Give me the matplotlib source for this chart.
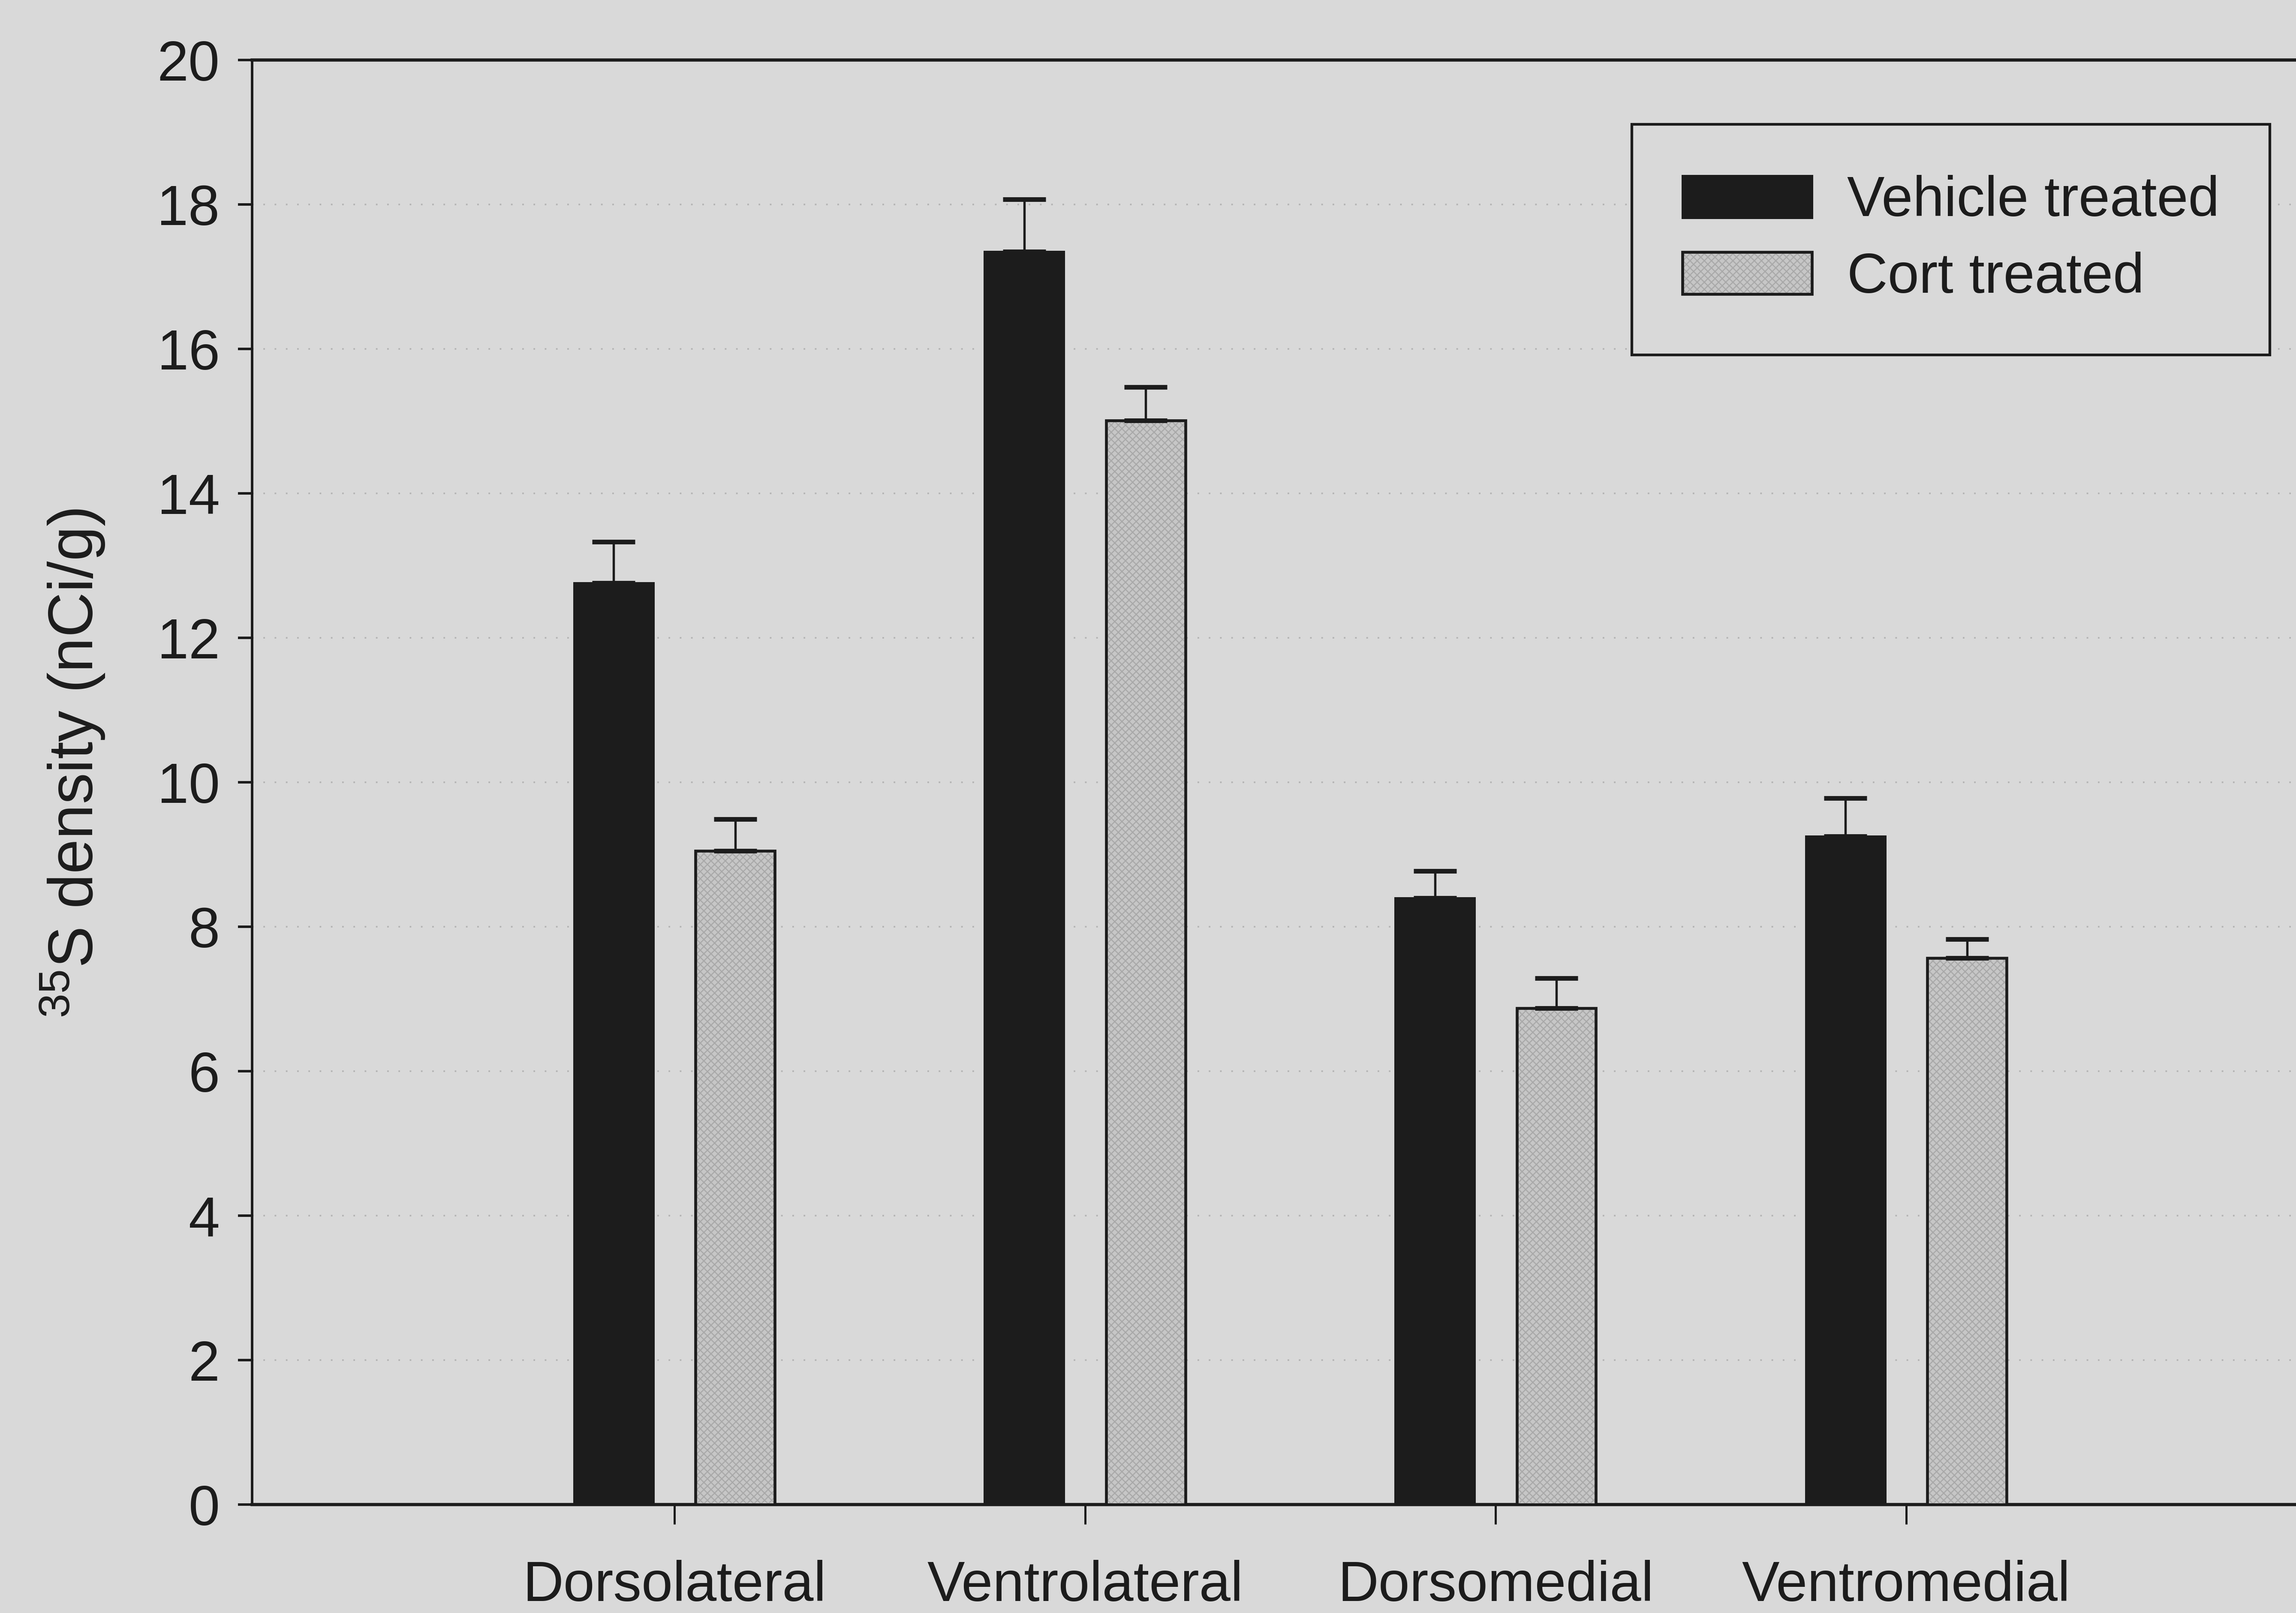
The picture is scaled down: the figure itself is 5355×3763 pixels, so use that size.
import matplotlib
matplotlib.use("Agg")
import matplotlib.pyplot as plt
import numpy as np

plt.rcParams['font.family'] = ['Liberation Sans', 'DejaVu Sans']
plt.rcParams['mathtext.fontset'] = 'custom'
plt.rcParams['mathtext.rm'] = 'Liberation Sans'
plt.rcParams['hatch.linewidth'] = 0.6

# Data
regions = ["Dorsolateral", "Ventrolateral", "Dorsomedial", "Ventromedial"]
vehicle_mean = [12.76, 17.35, 8.40, 9.25]
vehicle_sem = [0.57, 0.72, 0.37, 0.53]
cort_mean = [9.05, 15.01, 6.87, 7.57]
cort_sem = [0.44, 0.46, 0.42, 0.26]
series_labels = ["Vehicle treated", "Cort treated"]
y_ticks = [0, 2, 4, 6, 8, 10, 12, 14, 16, 18, 20]

BG = '#d9d9d9'
INK = '#1c1c1c'
FS = 31.5

fig = plt.figure(figsize=(5356 / 300, 3763 / 300), dpi=300, facecolor=BG)
ax = fig.add_axes([0.1097, 0.0672, 0.8915, 0.8956], facecolor=BG)

x = np.arange(len(regions))
offset = 0.148
width = 0.193

# dotted horizontal guides
for v in y_ticks[1:-1]:
    ax.axhline(v, color='#b4b4b4', lw=0.9, ls=(0, (1, 6)), zorder=0)

err_kw = dict(ecolor=INK, elinewidth=1.3, capthick=2.6, capsize=12)

ax.bar(x - offset, vehicle_mean, width, color=INK, edgecolor=INK, lw=1.2,
       yerr=[np.zeros(len(regions)), vehicle_sem], error_kw=err_kw,
       label=series_labels[0], zorder=3)
ax.bar(x + offset, cort_mean, width, color='#c6c6c6', edgecolor=INK, lw=1.6,
       hatch='xxxxxx', yerr=[np.zeros(len(regions)), cort_sem], error_kw=err_kw,
       label=series_labels[1], zorder=3)
# keep hatch lines light while the outline stays dark
for p in ax.patches:
    if p.get_hatch():
        p._hatch_color = matplotlib.colors.to_rgba('#a9a9a9')

ax.set_xlim(-1.029, 3.957)
ax.set_ylim(0, 20)
ax.set_yticks(y_ticks)
ax.set_xticks(x)
ax.set_xticklabels(regions)

ax.tick_params(axis='y', direction='out', length=8, width=1.4, pad=10,
               labelsize=FS, colors=INK)
ax.tick_params(axis='x', direction='out', length=11, width=1.2, pad=20,
               labelsize=FS, colors=INK)

for side in ['left', 'bottom', 'top']:
    ax.spines[side].set_color(INK)
ax.spines['left'].set_linewidth(1.4)
ax.spines['bottom'].set_linewidth(1.8)
ax.spines['top'].set_linewidth(1.8)
ax.spines['right'].set_visible(False)

ax.set_ylabel(r'$\mathregular{^{35}}$S density (nCi/g)', fontsize=35, color=INK)
ax.yaxis.set_label_coords(-0.071, 0.513)

leg = ax.legend(loc='upper right', bbox_to_anchor=(0.9857, 0.9554),
                borderaxespad=0, fontsize=FS, frameon=True, fancybox=False,
                edgecolor=INK, facecolor=BG, framealpha=1,
                handlelength=2.3, handleheight=0.77, handletextpad=0.62,
                labelspacing=0.42, borderpad=0.9)
leg.get_frame().set_linewidth(1.5)
for t in leg.get_texts():
    t.set_color(INK)

fig.savefig('out.png', dpi=300, facecolor=BG)
